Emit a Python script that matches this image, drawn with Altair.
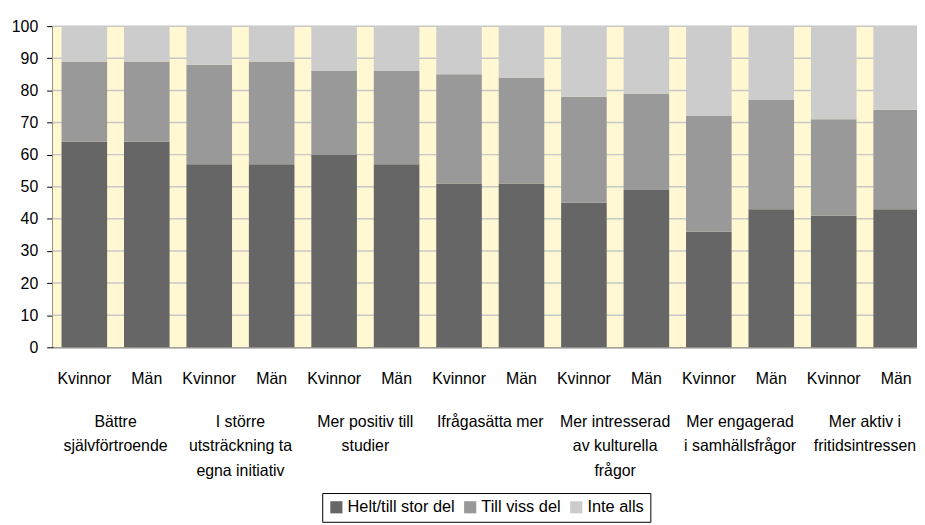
import altair as alt
import pandas as pd

groups = ["Bättre\nsjälvförtroende", "I större\nutsträckning ta\negna initiativ",
          "Mer positiv till\nstudier", "Ifrågasätta mer",
          "Mer intresserad\nav kulturella\nfrågor", "Mer engagerad\ni samhällsfrågor",
          "Mer aktiv i\nfritidsintressen"]
sexes = ["Kvinnor", "Män"]
series = ["Helt/till stor del", "Till viss del", "Inte alls"]
helt = [64, 64, 57, 57, 60, 57, 51, 51, 45, 49, 36, 43, 41, 43]
viss = [25, 25, 31, 32, 26, 29, 34, 33, 33, 30, 36, 34, 30, 31]
inte = [11, 11, 12, 11, 14, 14, 15, 16, 22, 21, 28, 23, 29, 26]
colors = ["#666666", "#999999", "#CCCCCC"]
yticks = list(range(0, 101, 10))

keys = []
rows = []
for gi, g in enumerate(groups):
    for si, s in enumerate(sexes):
        i = gi * 2 + si
        k = f"{gi}{si}|{s}"
        keys.append(k)
        for oi, (name, vals) in enumerate(zip(series, [helt, viss, inte])):
            rows.append({"key": k, "serie": name, "value": vals[i], "ord": oi})
df = pd.DataFrame(rows)
gdf = pd.DataFrame({"key": [keys[gi * 2] for gi in range(len(groups))], "label": groups})
tdf = pd.DataFrame({"t": yticks[1:]})

xscale = alt.Scale(domain=keys, paddingInner=0.27, paddingOuter=0.143, range=[0, 883])
yscale = alt.Scale(domain=[0, 100], nice=False)
yaxis = alt.Axis(values=yticks, tickSize=6, tickColor="#000000",
                 domain=True, domainColor="#000000", domainWidth=1.5,
                 labelFontSize=16, labelFont="Liberation Sans",
                 labelColor="#000000", labelPadding=9, grid=False)

bg = alt.Chart(pd.DataFrame({"a": [0]})).mark_rect(color="#FFF8D3").encode(
    x=alt.value(0), x2=alt.value(883), y=alt.value(0), y2=alt.value(324)
)

grid = alt.Chart(tdf).mark_rule(color="#C8C8C8", strokeWidth=1.5).encode(
    y=alt.Y("t:Q", scale=yscale, axis=yaxis, title=None),
    x=alt.value(0), x2=alt.value(883),
)

bars = alt.Chart(df).mark_bar().encode(
    x=alt.X("key:N", scale=xscale, sort=keys, title=None,
            axis=alt.Axis(labelExpr="slice(datum.value, indexof(datum.value, '|') + 1)",
                          labelAngle=0, ticks=False, domain=True, domainColor="#555555",
                          labelPadding=31, labelFontSize=16, labelFont="Liberation Sans",
                          labelColor="#000000", labelBaseline="middle", grid=False)),
    y=alt.Y("value:Q", stack="zero", scale=yscale, title=None, axis=yaxis),
    color=alt.Color("serie:N", scale=alt.Scale(domain=series, range=colors),
                    legend=alt.Legend(title=None, orient="none", direction="horizontal",
                                      legendX=272, legendY=471, symbolType="square",
                                      symbolSize=150, symbolStrokeWidth=0,
                                      labelFontSize=16.5, labelFont="Liberation Sans",
                                      labelColor="#000000", strokeColor="#000000",
                                      fillColor="#FFFFFF", padding=6, columnPadding=7,
                                      labelOffset=3)),
    order=alt.Order("ord:Q"),
)

glabels = alt.Chart(gdf).mark_text(
    dx=31.5, align="center", baseline="middle", lineBreak="\n", lineHeight=25,
    fontSize=16, font="Liberation Sans", color="#000000",
).encode(
    x=alt.X("key:N", scale=xscale, sort=keys),
    y=alt.value(399),
    text="label:N",
)

chart = alt.layer(bg, grid, bars, glabels).properties(
    width=872, height=324,
    autosize=alt.AutoSizeParams(type="none"),
    padding={"left": 45, "top": 16, "right": 0, "bottom": 185},
).configure_view(stroke=None).configure(background="#FFFFFF")

chart.save("out.html", embed_options={"renderer": "svg", "actions": False})
